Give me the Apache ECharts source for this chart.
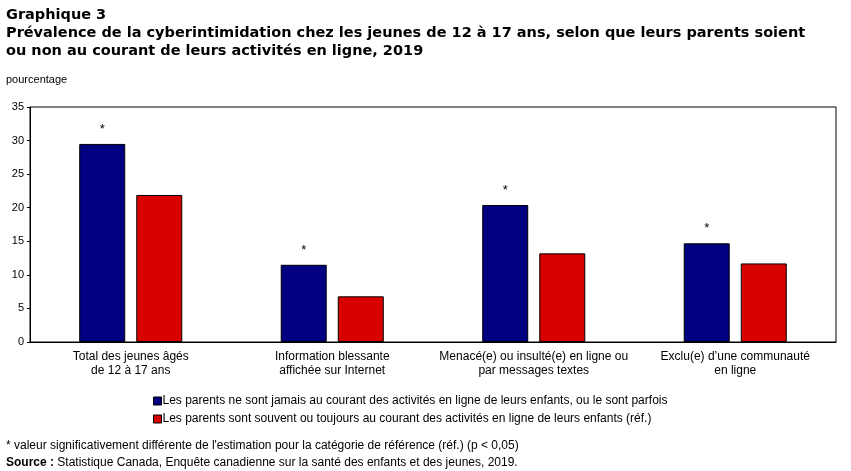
<!DOCTYPE html>
<html><head><meta charset="utf-8">
<script src="https://cdn.jsdelivr.net/npm/echarts@6/dist/echarts.min.js"></script>
<style>html,body{margin:0;padding:0;background:#fff}#c{width:851px;height:471px}</style>
</head><body><div id="c"></div>
<script>
var categories = ["Total des jeunes âgés\nde 12 à 17 ans", "Information blessante\naffichée sur Internet", "Menacé(e) ou insulté(e) en ligne ou\npar messages textes", "Exclu(e) d’une communauté\nen ligne"];
var seriesNames = ["Les parents ne sont jamais au courant des activités en ligne de leurs enfants, ou le sont parfois", "Les parents sont souvent ou toujours au courant des activités en ligne de leurs enfants (réf.)"];
var valuesRarely = [29.5, 11.5, 20.4, 14.7];
var valuesOften = [21.9, 6.8, 13.2, 11.7];
var significant = ["*", "*", "*", "*"];
var yTicks = [0, 5, 10, 15, 20, 25, 30, 35];

var chart = echarts.init(document.getElementById('c'));
var lab = {fontFamily: 'Liberation Sans', fontSize: 12, color: '#000'};
var tf = 'bold 14.5px "DejaVu Sans"';
chart.setOption({
  animation: false,
  textStyle: {fontFamily: 'Liberation Sans'},
  graphic: [
    {type: 'text', left: 6, top: 8, style: {text: 'Graphique 3', font: tf, fill: '#000'}},
    {type: 'text', left: 6, top: 26, style: {text: 'Prévalence de la cyberintimidation chez les jeunes de 12 à 17 ans, selon que leurs parents soient', font: tf, fill: '#000'}},
    {type: 'text', left: 6, top: 44, style: {text: 'ou non au courant de leurs activités en ligne, 2019', font: tf, fill: '#000'}},
    {type: 'text', left: 6, top: 74, style: {text: 'pourcentage', font: '11px "Liberation Sans"', fill: '#000'}},
    {type: 'text', left: 6, top: 440, style: {text: "* valeur significativement différente de l'estimation pour la catégorie de référence (réf.) (p < 0,05)", font: '12px "Liberation Sans"', fill: '#000'}},
    {type: 'text', left: 6, top: 457, style: {
      text: '{b|Source :} Statistique Canada, Enquête canadienne sur la santé des enfants et des jeunes, 2019.',
      font: '12px "Liberation Sans"', fill: '#000',
      rich: {b: {fontWeight: 'bold', fontFamily: 'Liberation Sans', fontSize: 12, fill: '#000'}}
    }}
  ],
  legend: {
    orient: 'vertical', left: 148, top: 390,
    itemWidth: 8, itemHeight: 8, itemGap: 6,
    icon: 'rect',
    itemStyle: {borderColor: '#000', borderWidth: 1},
    textStyle: {fontFamily: 'Liberation Sans', fontSize: 12, color: '#000', padding: [0, 0, 0, -4]},
    data: seriesNames
  },
  grid: {left: 30, right: 15, top: 107, bottom: 129, show: true, borderColor: '#000', borderWidth: 1, containLabel: false},
  xAxis: {
    type: 'category', data: categories,
    axisLine: {lineStyle: {color: '#000'}},
    axisTick: {show: false},
    axisLabel: Object.assign({margin: 8, lineHeight: 14, interval: 0}, lab)
  },
  yAxis: {
    type: 'value', min: yTicks[0], max: yTicks[yTicks.length - 1], interval: 5,
    axisLine: {show: true, lineStyle: {color: '#000'}},
    axisTick: {show: true, length: 3, lineStyle: {color: '#000'}},
    splitLine: {show: false},
    axisLabel: Object.assign({margin: 6}, lab, {fontSize: 11})
  },
  series: [
    {
      name: seriesNames[0], type: 'bar', data: valuesRarely, barWidth: 46, barGap: '24%',
      itemStyle: {color: '#000080', borderColor: '#000', borderWidth: 1},
      label: {show: true, position: 'top', distance: 8, formatter: function (p) { return significant[p.dataIndex]; }, fontFamily: 'Liberation Sans', fontSize: 13, color: '#000'}
    },
    {
      name: seriesNames[1], type: 'bar', data: valuesOften, barWidth: 46,
      itemStyle: {color: '#d90000', borderColor: '#000', borderWidth: 1}
    }
  ]
});
</script></body></html>
